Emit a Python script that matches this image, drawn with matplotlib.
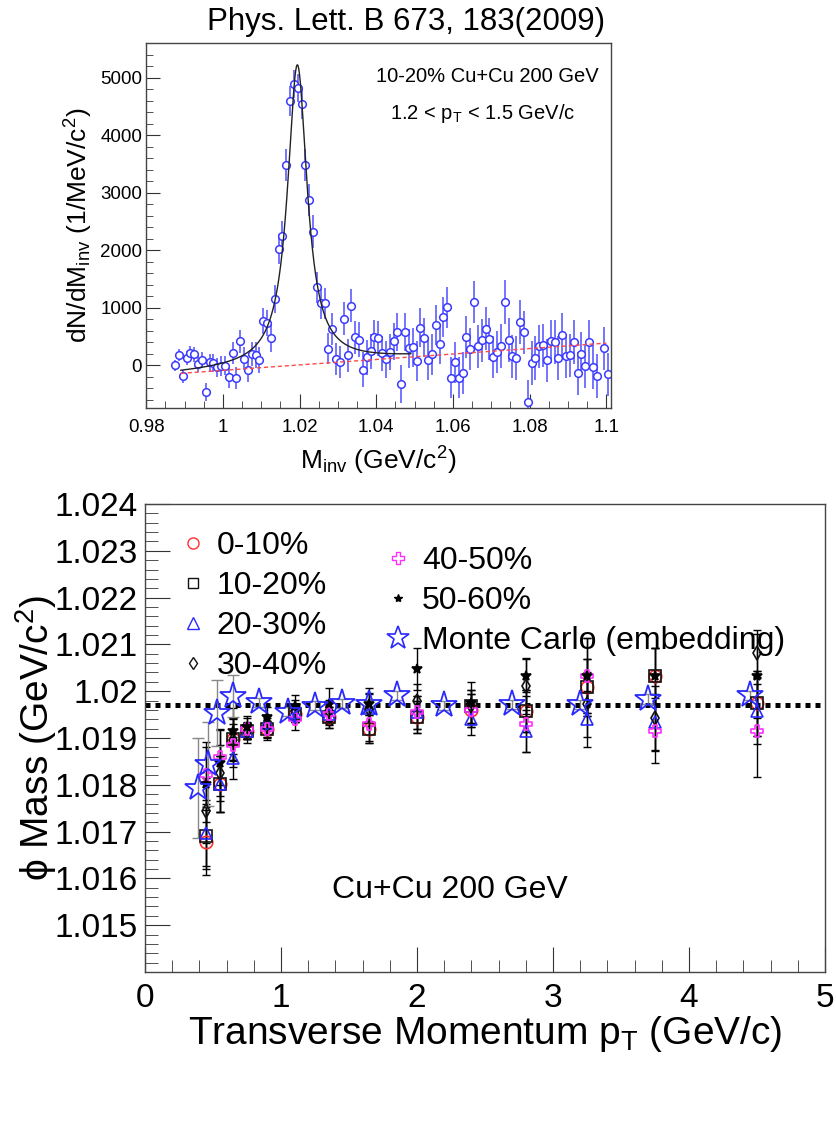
import numpy as np
import matplotlib.pyplot as plt
from matplotlib.lines import Line2D
from matplotlib.ticker import MultipleLocator

plt.rcParams['font.family'] = ['Liberation Sans', 'DejaVu Sans']
plt.rcParams['mathtext.fontset'] = 'custom'
plt.rcParams['mathtext.rm'] = 'Liberation Sans'
plt.rcParams['mathtext.it'] = 'Liberation Sans:italic'
plt.rcParams['mathtext.default'] = 'regular'

# ---- invariant mass spectrum (10-20% Cu+Cu, 1.2 < pT < 1.5 GeV/c), 1 MeV bins ----
minv_first = 0.9875
minv_step = 0.001
counts = [0, 179, -191, 127, 209, 197, 18, 87, -463, 52,
          41, -35, -11, -5, -208, 214, -219, 417, 116, -75,
          197, 179, 93, 775, 740, 480, 1152, 2026, 2240, 3478,
          4595, 4884, 4815, 4543, 3478, 2870, 2326, 1355, 1083, 1083,
          289, 637, 116, 58, 811, 174, 1036, 486, 446, -75,
          139, 243, 486, 470, 208, 110, 232, 417, 579, -330,
          579, 295, 312, 76, 654, 480, 93, 191, 706, 371,
          840, 1007, -214, 52, -214, -133, 492, 283, 1100, 330,
          434, 637, 457, 145, 232, 341, 1100, 446, 156, 128,
          752, 573, -637, 41, 133, 330, 347, 87, 417, 411,
          128, 533, 156, 174, 411, -139, 203, -17, 411, -23,
          -179, np.nan, 295, -156]
count_err = [90, 110, 120, 120, 130, 130, 140, 140, 150, 150,
             160, 160, 170, 170, 180, 190, 190, 200, 200, 210,
             210, 220, 220, 230, 230, 240, 250, 260, 270, 280,
             260, 240, 240, 260, 280, 280, 280, 270, 270, 270,
             270, 280, 280, 280, 290, 290, 290, 290, 300, 300,
             300, 300, 310, 310, 310, 320, 320, 320, 330, 330,
             330, 340, 340, 340, 340, 340, 350, 350, 350, 350,
             350, 360, 360, 360, 360, 360, 360, 370, 370, 370,
             370, 370, 370, 370, 370, 380, 380, 380, 380, 380,
             380, 380, 380, 380, 380, 380, 380, 380, 380, 380,
             380, 380, 380, 380, 380, 380, 380, 380, 380, 380,
             380, 380, 380, 380]

# fit: Breit-Wigner peak on a linear residual background
bw_mass = 1.0194
bw_width = 0.0062
bw_amp = 5215
bkg_at_099 = -133
bkg_slope = 4732

# ---- phi mass vs pT for the centrality bins ----
pt_bins = [0.45, 0.55, 0.65, 0.75, 0.9, 1.1, 1.35, 1.65, 2.0, 2.4, 2.8, 3.25, 3.75, 4.5]
mass_0_10 = [1.01677, 1.01802, 1.01897, 1.01915, 1.01919, 1.01951, 1.01944,
             1.01919, 1.01945, 1.01959, 1.01957, 1.02008, 1.02033, 1.01974]
err_0_10 = [0.0007, 0.0006, 0.00045, 0.00017, 0.00017, 0.00017, 0.00023,
            0.0003, 0.00035, 0.00035, 0.00045, 0.0006, 0.0006, 0.0007]
mass_10_20 = [1.0169, 1.01802, 1.01897, 1.01915, 1.01919, 1.01951, 1.01944,
              1.01919, 1.01945, 1.01968, 1.01957, 1.02008, 1.02033, 1.01974]
err_10_20 = [0.0007, 0.0006, 0.00045, 0.00017, 0.00017, 0.00017, 0.00023,
             0.0003, 0.00035, 0.00035, 0.00045, 0.0006, 0.0006, 0.0007]
mass_20_30 = [1.01697, 1.01802, 1.01858, 1.01915, 1.01933, 1.01956, 1.01952,
              1.01965, 1.01955, 1.01941, 1.01915, 1.01941, 1.01935, 1.01958]
err_20_30 = [0.0007, 0.0006, 0.00045, 0.00017, 0.00017, 0.00017, 0.00023,
             0.0003, 0.00035, 0.00035, 0.00045, 0.0006, 0.0006, 0.0007]
mass_30_40 = [1.01745, 1.01825, 1.01895, 1.01912, 1.01923, 1.01958, 1.01958,
              1.01961, 1.0198, 1.01968, 1.02011, 1.01972, 1.01942, 1.02081]
err_30_40 = [0.0007, 0.0006, 0.00045, 0.00023, 0.00023, 0.00023, 0.00023,
             0.00035, 0.00035, 0.00035, 0.0006, 0.0007, 0.0007, 0.0005]
mass_40_50 = [1.01822, 1.0186, 1.01884, 1.0192, 1.01919, 1.01941, 1.01951,
              1.01929, 1.01955, 1.01959, 1.0193, 1.02033, 1.01916, 1.01916]
err_40_50 = [0.0007, 0.0006, 0.00045, 0.00023, 0.00023, 0.00023, 0.00023,
             0.00035, 0.00035, 0.00035, 0.0006, 0.0008, 0.0007, 0.001]
mass_50_60 = [1.01801, 1.01847, 1.01915, 1.01923, 1.01944, 1.01968, 1.01972,
              1.01972, 1.02047, 1.01975, 1.02033, 1.02033, 1.02033, 1.02033]
err_50_60 = [0.0008, 0.0007, 0.0005, 0.00023, 0.00023, 0.00023, 0.00035,
             0.00035, 0.00045, 0.00045, 0.00035, 0.0008, 0.0006, 0.0009]

# embedded Monte Carlo
mc_pt = [0.39, 0.46, 0.53, 0.65, 0.84, 1.05, 1.25, 1.45, 1.65, 1.85, 2.2, 2.7, 3.2, 3.7, 4.45]
mc_mass = [1.01794, 1.01844, 1.01953, 1.0199, 1.01976, 1.01956, 1.01969, 1.01974,
           1.01972, 1.01991, 1.0197, 1.01972, 1.01972, 1.01983, 1.01991]
mc_err = [0.00107, 0.0009, 0.0007, 0.00045, 0.0001, 0.0001, 0.0001, 0.0001,
          0.0001, 0.0001, 0.0001, 0.0001, 0.0001, 0.0001, 0.0001]

phi_mass_ref = 1.0197

# ROOT style open cross marker
w = 0.32
open_cross = [(-w, 1), (w, 1), (w, w), (1, w), (1, -w), (w, -w), (w, -1),
              (-w, -1), (-w, -w), (-1, -w), (-1, w), (-w, w), (-w, 1)]

fig = plt.figure(figsize=(8.37, 11.41), dpi=100)
fig.text(0.485, 0.981, 'Phys. Lett. B 673, 183(2009)', ha='center', va='center', fontsize=22.5)

# ================= top panel =================
ax1 = fig.add_axes([0.1748, 0.6424, 0.5551, 0.3199])
minv = minv_first + minv_step * np.arange(len(counts))
ax1.errorbar(minv, counts, yerr=count_err, fmt='none', ecolor='#6a6aff', elinewidth=1.3)
ax1.plot(minv, counts, 'o', ms=5.5, mfc='white', mec='#3a3aff', mew=1.1, ls='none')

xf = np.linspace(0.989, 1.049, 600)
bkg_f = bkg_at_099 + bkg_slope * (xf - 0.99)
peak = bw_amp * (bw_width / 2) ** 2 / ((xf - bw_mass) ** 2 + (bw_width / 2) ** 2)
ax1.plot(xf, peak + bkg_f, color='#222222', lw=1.0)
xb = np.linspace(0.989, 1.1, 50)
ax1.plot(xb, bkg_at_099 + bkg_slope * (xb - 0.99), color='#ff4a4a', lw=1.0, ls=(0, (3, 2)))

ax1.set_xlim(0.98, 1.1012)
ax1.set_ylim(-740, 5600)
ax1.xaxis.set_major_locator(MultipleLocator(0.02))
ax1.xaxis.set_minor_locator(MultipleLocator(0.005))
ax1.yaxis.set_major_locator(MultipleLocator(1000))
ax1.yaxis.set_minor_locator(MultipleLocator(200))
ax1.set_xticks([0.98, 1.0, 1.02, 1.04, 1.06, 1.08, 1.1])
ax1.set_xticklabels(['0.98', '1', '1.02', '1.04', '1.06', '1.08', '1.1'])
ax1.tick_params(which='both', direction='in', top=False, right=False, labelsize=13.5, color='#333333')
ax1.tick_params(axis='x', which='major', length=10, pad=8)
ax1.tick_params(axis='x', which='minor', length=5)
ax1.tick_params(axis='y', which='major', length=10, pad=3)
ax1.tick_params(axis='y', which='minor', length=5)
for s in ax1.spines.values():
    s.set_color('#444444')
    s.set_linewidth(1.0)
ax1.set_xlabel('M$_{inv}$ (GeV/c$^{2}$)', fontsize=19, labelpad=6)
ax1.set_ylabel('dN/dM$_{inv}$ (1/MeV/c$^{2}$)', fontsize=19, labelpad=4)
ax1.text(0.735, 0.907, '10-20% Cu+Cu 200 GeV', transform=ax1.transAxes,
         ha='center', va='center', fontsize=14.5)
ax1.text(0.725, 0.808, '1.2 < p$_{T}$ < 1.5 GeV/c', transform=ax1.transAxes,
         ha='center', va='center', fontsize=14.5)

# ================= bottom panel =================
ax2 = fig.add_axes([0.1732, 0.1481, 0.8124, 0.4102])
ax2.axhline(phi_mass_ref, color='black', lw=3.6, ls=(0, (1, 1)), zorder=1)

series = [
    ('0-10%', mass_0_10, err_0_10, 'o', '#ff3030', 'none', 9, 8),
    ('10-20%', mass_10_20, err_10_20, 's', '#111111', 'none', 8.5, 7),
    ('20-30%', mass_20_30, err_20_30, '^', '#2a2aff', 'none', 9, 8),
    ('30-40%', mass_30_40, err_30_40, 'd', '#111111', 'none', 7, 6),
    ('40-50%', mass_40_50, err_40_50, open_cross, '#ff30ff', 'none', 9, 8),
    ('50-60%', mass_50_60, err_50_60, '*', '#000000', '#000000', 7, 6),
]
handles1 = []
handles2 = []
for i, (label, vals, errs, mk, col, face, ms, ms_leg) in enumerate(series):
    ax2.errorbar(pt_bins, vals, yerr=errs, fmt='none', ecolor='black',
                 elinewidth=1.0, capsize=3, capthick=1.0, zorder=2)
    ax2.plot(pt_bins, vals, ls='none', marker=mk, ms=ms, mfc=face, mec=col,
             mew=1.2, zorder=3)
    h = Line2D([], [], ls='none', marker=mk, ms=ms_leg, mfc=face, mec=col, mew=1.0)
    if i < 4:
        handles1.append((h, label))
    else:
        handles2.append((h, label))

ax2.errorbar(mc_pt, mc_mass, yerr=mc_err, fmt='none', ecolor='#888888',
             elinewidth=1.0, capsize=4, capthick=1.0, zorder=2)
ax2.plot(mc_pt, mc_mass, ls='none', marker='*', ms=20, mfc='none', mec='#2a2aff',
         mew=1.3, zorder=4)
handles2.append((Line2D([], [], ls='none', marker='*', ms=17, mfc='none',
                        mec='#2a2aff', mew=1.2), 'Monte Carlo (embedding)'))

leg1 = ax2.legend([h for h, _ in handles1], [l for _, l in handles1],
                  loc='upper left', bbox_to_anchor=(0.047, 0.942), frameon=False,
                  fontsize=23, handlelength=1.0, handletextpad=0.25,
                  labelspacing=0.31, borderpad=0, borderaxespad=0)
ax2.add_artist(leg1)
ax2.legend([h for h, _ in handles2], [l for _, l in handles2],
           loc='upper left', bbox_to_anchor=(0.349, 0.910), frameon=False,
           fontsize=23, handlelength=1.0, handletextpad=0.25,
           labelspacing=0.31, borderpad=0, borderaxespad=0)

ax2.text(2.24, 1.01575, 'Cu+Cu 200 GeV', ha='center', va='center', fontsize=23)

ax2.set_xlim(0, 5)
ax2.set_ylim(1.014, 1.024)
ax2.xaxis.set_major_locator(MultipleLocator(1))
ax2.xaxis.set_minor_locator(MultipleLocator(0.2))
ax2.yaxis.set_major_locator(MultipleLocator(0.001))
ax2.yaxis.set_minor_locator(MultipleLocator(0.0002))
ax2.set_yticks([1.015, 1.016, 1.017, 1.018, 1.019, 1.02, 1.021, 1.022, 1.023, 1.024])
ax2.set_yticklabels(['1.015', '1.016', '1.017', '1.018', '1.019', '1.02',
                     '1.021', '1.022', '1.023', '1.024'])
ax2.tick_params(which='both', direction='in', top=False, right=False, labelsize=24, color='#333333')
ax2.tick_params(axis='x', which='major', length=18, pad=8)
ax2.tick_params(axis='x', which='minor', length=9)
ax2.tick_params(axis='y', which='major', length=18, pad=5)
ax2.tick_params(axis='y', which='minor', length=9)
for s in ax2.spines.values():
    s.set_color('#444444')
    s.set_linewidth(1.0)
ax2.set_xlabel('Transverse Momentum p$_{T}$ (GeV/c)', fontsize=28, labelpad=0)
ax2.set_ylabel('\u03d5 Mass (GeV/c$^{2}$)', fontsize=28, labelpad=-3)

fig.savefig('out.png', dpi=100)
